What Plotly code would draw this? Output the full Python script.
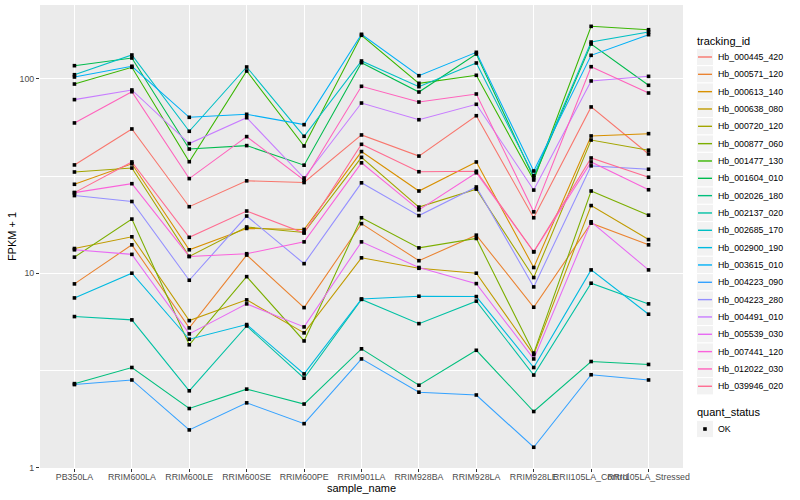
import plotly.graph_objects as go

sample_name = ["PB350LA", "RRIM600LA", "RRIM600LE", "RRIM600SE", "RRIM600PE", "RRIM901LA",
               "RRIM928BA", "RRIM928LA", "RRIM928LE", "RRII105LA_Control", "RRII105LA_Stressed"]

tracking_id = ["Hb_000445_420", "Hb_000571_120", "Hb_000613_140", "Hb_000638_080", "Hb_000720_120",
               "Hb_000877_060", "Hb_001477_130", "Hb_001604_010", "Hb_002026_180", "Hb_002137_020",
               "Hb_002685_170", "Hb_002900_190", "Hb_003615_010", "Hb_004223_090", "Hb_004223_280",
               "Hb_004491_010", "Hb_005539_030", "Hb_007441_120", "Hb_012022_030", "Hb_039946_020"]

# FPKM + 1 values per gene, in sample_name order
hb_000445_420 = [36.1, 55.3, 22.0, 29.9, 29.3, 51.5, 40.1, 64.7, 19.3, 71.8, 41.1]
hb_000571_120 = [8.81, 14.0, 5.23, 12.4, 6.65, 18.0, 11.6, 15.7, 6.68, 18.1, 14.0]
hb_000613_140 = [28.7, 36.6, 13.2, 17.0, 16.8, 42.3, 26.5, 37.4, 10.7, 50.9, 52.3]
hb_000638_080 = [13.4, 15.4, 5.70, 7.29, 4.93, 12.0, 10.6, 10.0, 3.81, 22.3, 14.9]
hb_000720_120 = [33.2, 34.8, 12.2, 17.3, 16.2, 39.5, 21.9, 27.1, 9.5, 48.5, 43.0]
hb_000877_060 = [12.1, 19.0, 4.28, 9.6, 4.48, 19.3, 13.5, 15.1, 3.88, 26.5, 19.9]
hb_001477_130 = [94.2, 114.9, 37.5, 109.9, 45.2, 167.9, 95.0, 104.5, 30.2, 186.7, 179.4]
hb_001604_010 = [117.1, 128.3, 43.6, 45.4, 36.0, 121.3, 85.7, 134.5, 31.0, 151.4, 92.8]
hb_002026_180 = [2.70, 3.27, 2.01, 2.53, 2.12, 4.08, 2.65, 4.01, 1.94, 3.51, 3.39]
hb_002137_020 = [5.98, 5.75, 2.48, 5.35, 2.88, 7.33, 5.50, 7.18, 2.99, 8.88, 6.95]
hb_002685_170 = [105.2, 132.9, 53.8, 115.3, 50.7, 123.8, 91.3, 120.9, 31.8, 155.0, 174.5]
hb_002900_190 = [7.46, 10.0, 4.57, 5.44, 3.03, 7.37, 7.61, 7.58, 3.27, 10.4, 6.15]
hb_003615_010 = [102.4, 116.3, 63.5, 65.8, 58.2, 169.9, 104.0, 137.2, 33.6, 132.4, 169.1]
hb_004223_090 = [2.67, 2.82, 1.56, 2.15, 1.68, 3.62, 2.44, 2.36, 1.27, 3.00, 2.82]
hb_004223_280 = [25.1, 23.4, 9.2, 19.7, 11.2, 29.2, 19.8, 27.8, 8.5, 35.7, 34.3]
hb_004491_010 = [78.3, 87.8, 46.5, 63.2, 30.9, 75.2, 61.7, 74.1, 26.8, 97.7, 103.2]
hb_005539_030 = [13.2, 12.5, 4.87, 6.95, 5.29, 14.5, 10.7, 8.84, 3.62, 18.4, 10.4]
hb_007441_120 = [26.0, 28.9, 12.2, 12.6, 14.5, 37.0, 21.2, 32.9, 12.9, 37.4, 26.9]
hb_012022_030 = [59.4, 86.0, 30.7, 50.5, 30.1, 91.7, 76.1, 83.7, 20.7, 115.7, 84.7]
hb_039946_020 = [26.0, 37.4, 15.3, 20.9, 16.1, 46.1, 33.3, 33.5, 12.9, 39.2, 31.2]

series_values = [hb_000445_420, hb_000571_120, hb_000613_140, hb_000638_080, hb_000720_120,
                 hb_000877_060, hb_001477_130, hb_001604_010, hb_002026_180, hb_002137_020,
                 hb_002685_170, hb_002900_190, hb_003615_010, hb_004223_090, hb_004223_280,
                 hb_004491_010, hb_005539_030, hb_007441_120, hb_012022_030, hb_039946_020]

quant_status = ["OK"]

y_tick_values = [1, 10, 100]
y_tick_labels = ["1", "10", "100"]

colors = ["#F8766D", "#EA8331", "#D89000", "#C09B00", "#A3A500", "#7CAE00", "#39B600",
          "#00BB4E", "#00BF7D", "#00C1A3", "#00BFC4", "#00BAE0", "#00B0F6", "#35A2FF",
          "#9590FF", "#C77CFF", "#E76BF3", "#FA62DB", "#FF62BC", "#FF6C91"]

FONT = "Liberation Sans, Arial, Helvetica, sans-serif"
W, H = 800, 500
ML, MR, MT, MB = 40, 116.5, 5, 32
PW, PH = W - ML - MR, H - MT - MB


def px(xp):
    return (xp - ML) / PW


def py(yp):
    return (H - MB - yp) / PH


fig = go.Figure()
for name, vals, col in zip(tracking_id, series_values, colors):
    fig.add_trace(go.Scatter(
        x=sample_name, y=vals, mode="lines", name=name,
        line=dict(color=col, width=1.07), hoverinfo="x+y+name"))

all_x = [s for _ in series_values for s in sample_name]
all_y = [v for vals in series_values for v in vals]
fig.add_trace(go.Scatter(
    x=all_x, y=all_y, mode="markers", name=quant_status[0],
    marker=dict(symbol="square", size=3.6, color="black", line=dict(width=0))))

# ggplot-style legends (keys + labels) placed to the right of the panel
shapes, annotations = [], []
KEY_X0, KEY_X1, LABEL_X, TITLE_X = 697, 714, 716.5, 696
ROW0, ROW = 57, 17.33


def key_box(yc):
    shapes.append(dict(type="rect", xref="paper", yref="paper",
                       x0=px(KEY_X0), x1=px(KEY_X1), y0=py(yc + ROW / 2), y1=py(yc - ROW / 2),
                       fillcolor="#F2F2F2", line=dict(color="white", width=1), layer="above"))


def label(text, xp, yc, size):
    annotations.append(dict(text=text, xref="paper", yref="paper", x=px(xp), y=py(yc),
                            xanchor="left", yanchor="middle", showarrow=False,
                            font=dict(family=FONT, size=size, color="black")))


label("tracking_id", TITLE_X, 40.7, 11)
for i, (name, col) in enumerate(zip(tracking_id, colors)):
    yc = ROW0 + ROW * i
    key_box(yc)
    shapes.append(dict(type="line", xref="paper", yref="paper",
                       x0=px(KEY_X0 + 1.5), x1=px(KEY_X1 - 1.5), y0=py(yc), y1=py(yc),
                       line=dict(color=col, width=1.4), layer="above"))
    label(name, LABEL_X, yc, 8.8)

label("quant_status", TITLE_X, 412.3, 11)
for j, status in enumerate(quant_status):
    yc = 429 + ROW * j
    key_box(yc)
    cx = (KEY_X0 + KEY_X1) / 2
    shapes.append(dict(type="rect", xref="paper", yref="paper",
                       x0=px(cx - 1.8), x1=px(cx + 1.8), y0=py(yc + 1.8), y1=py(yc - 1.8),
                       fillcolor="black", line=dict(width=0), layer="above"))
    label(status, LABEL_X, yc, 8.8)

fig.update_layout(
    width=W, height=H,
    margin=dict(l=ML, r=MR, t=MT, b=MB),
    paper_bgcolor="white", plot_bgcolor="#EBEBEB",
    font=dict(family=FONT, size=9, color="black"),
    showlegend=False,
    shapes=shapes, annotations=annotations,
    xaxis=dict(
        type="category", categoryorder="array", categoryarray=sample_name,
        range=[-0.6, len(sample_name) - 0.4],
        showgrid=True, gridcolor="white", gridwidth=1.07, zeroline=False, showline=False,
        ticks="outside", ticklen=3, tickwidth=1.07, tickcolor="#333333", tickangle=0,
        ticklabelstandoff=-3,
        tickfont=dict(size=8.8, color="#4D4D4D", family=FONT),
        title=dict(text="sample_name", font=dict(size=11, color="black"), standoff=1),
        automargin=False),
    yaxis=dict(
        type="log", range=[-0.003, 2.381],
        tickmode="array", tickvals=y_tick_values, ticktext=y_tick_labels,
        showgrid=True, gridcolor="white", gridwidth=1.07, zeroline=False, showline=False,
        ticks="outside", ticklen=3, tickwidth=1.07, tickcolor="#333333",
        tickfont=dict(size=8.8, color="#4D4D4D", family=FONT),
        minor=dict(tickmode="array", tickvals=[10 ** 0.5, 10 ** 1.5, 10 ** 2.5],
                   showgrid=True, gridcolor="white", gridwidth=0.53, ticklen=0),
        title=dict(text="FPKM + 1", font=dict(size=11, color="black"), standoff=0),
        automargin=False),
)

fig.write_html("out.html",
               config={"displayModeBar": False},
               post_script="document.body.style.margin='0px';document.body.style.overflow='hidden';")
